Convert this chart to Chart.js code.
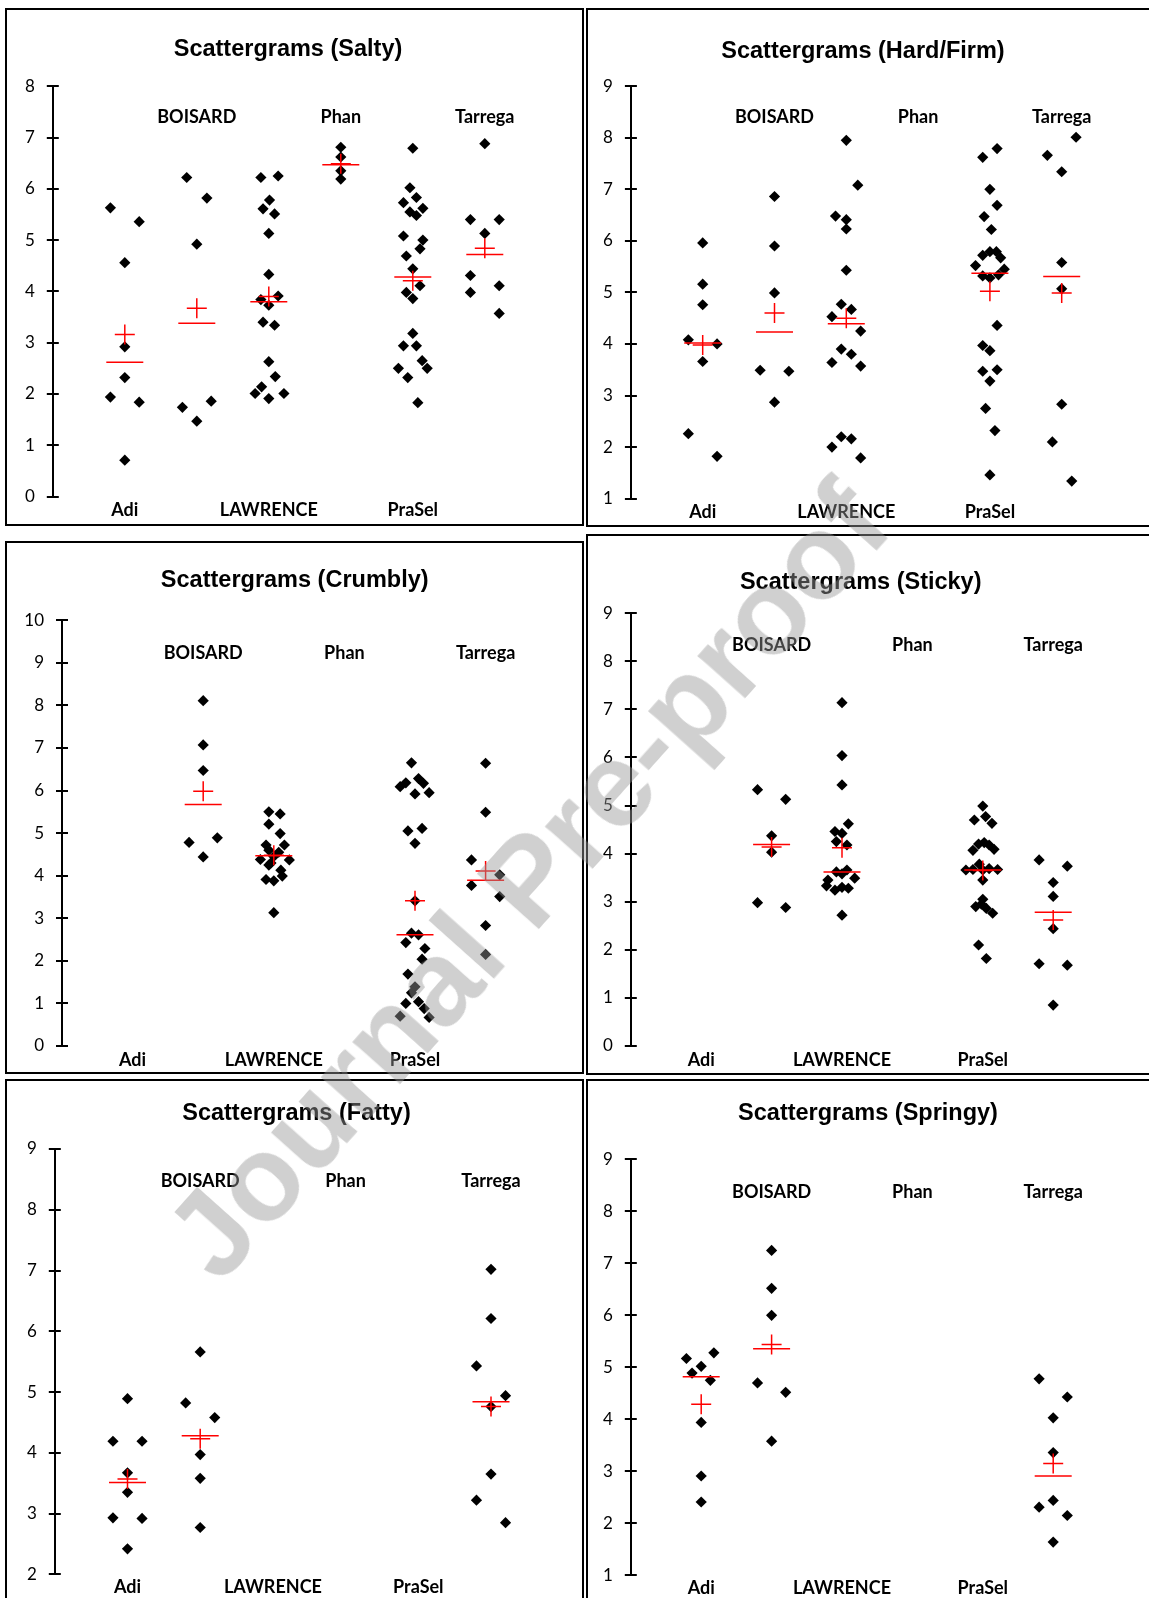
<!DOCTYPE html>
<html>
<head>
<meta charset="utf-8">
<script src="https://cdn.jsdelivr.net/npm/chart.js@4.4.1/dist/chart.umd.min.js"></script>
<style>
  html, body { margin:0; padding:0; background:#fff; }
  body { width:1149px; height:1598px; position:relative; overflow:hidden; }
  .box { position:absolute; border:2px solid #000; box-sizing:border-box; }
  canvas { position:absolute; }
  #wm { position:absolute; left:527px; top:880px; transform:translate(-50%,-50%) rotate(-48.2deg);
        font-family:"Liberation Sans", Arial, sans-serif; font-weight:bold; font-size:121px; line-height:1;
        color:rgba(150,150,150,0.45); white-space:nowrap; pointer-events:none; z-index:10; }
</style>
</head>
<body>
<div id="wm">Journal Pre-proof</div>
<script>
// ---------------- DATA ----------------
const categories = ['Adi', 'BOISARD', 'LAWRENCE', 'Phan', 'PraSel', 'Tarrega'];
const titles = ['Scattergrams (Salty)', 'Scattergrams (Hard/Firm)', 'Scattergrams (Crumbly)',
                'Scattergrams (Sticky)', 'Scattergrams (Fatty)', 'Scattergrams (Springy)'];
const yMin = [0, 1, 0, 0, 2, 1];
const yMax = [8, 9, 10, 9, 9, 9];

// individual scores: [x (category index + jitter), score]
const saltyPoints = [
  [0.8,5.63],[1.2,5.36],[1,4.56],[1,2.92],[1,2.32],[0.8,1.94],[1.2,1.84],[1,0.71],
  [1.86,6.22],[2.14,5.82],[2,4.92],[1.8,1.74],[2.2,1.86],[2,1.47],
  [2.89,6.22],[3.13,6.25],[3.01,5.78],[2.92,5.61],[3.08,5.51],[3,5.13],[3,4.33],[2.89,3.84],[3.13,3.91],
  [3,3.73],[2.92,3.40],[3.08,3.34],[3,2.63],[3.09,2.34],[2.9,2.14],[2.81,2.01],[3.21,2.01],[3,1.91],
  [4,6.81],[4,6.62],[4,6.35],[4,6.19],
  [5,6.79],[4.96,6.02],[4.87,5.73],[5.05,5.83],[5.14,5.62],[4.96,5.55],[5.05,5.48],[4.87,5.08],[5.14,5.00],
  [5.1,4.83],[4.91,4.69],[5,4.44],[5.1,4.11],[4.91,3.98],[5,3.86],[5,3.18],[4.87,2.94],[5.05,2.94],
  [5.13,2.65],[4.8,2.50],[5.2,2.50],[4.93,2.32],[5.07,1.83],
  [6,6.88],[5.8,5.40],[6.2,5.40],[6,5.13],[5.8,4.31],[5.8,3.98],[6.2,4.11],[6.2,3.57]
];
const saltyMeans   = [3.16, 3.67, 3.90, 6.49, 4.21, 4.84];
const saltyMedians = [2.62, 3.38, 3.80, 6.47, 4.28, 4.72];

const hardPoints = [
  [1,5.96],[1,5.16],[1,4.76],[0.8,4.08],[1.2,4.00],[1,3.66],[0.8,2.26],[1.2,1.82],
  [2,6.86],[2,5.90],[2,4.99],[1.8,3.49],[2.2,3.47],[2,2.87],
  [3,7.95],[3.16,7.08],[2.85,6.48],[3,6.41],[3,6.23],[3,5.43],[2.93,4.77],[3.07,4.67],[2.8,4.53],
  [3.2,4.25],[2.93,3.90],[3.07,3.80],[2.8,3.64],[3.2,3.57],[2.93,2.20],[3.07,2.16],[2.8,2.00],[3.2,1.79],
  [5.1,7.79],[4.9,7.62],[5,7.00],[5.1,6.69],[4.92,6.47],[5.02,6.22],
  [4.9,5.72],[5,5.79],[5.09,5.79],[5.15,5.67],[4.8,5.52],[5.2,5.45],[4.9,5.32],[5,5.28],[5.12,5.34],
  [5.1,4.36],[4.9,3.97],[5,3.87],[4.9,3.47],[5.1,3.50],[5,3.28],[4.94,2.75],[5.07,2.32],[5,1.46],
  [6.2,8.01],[5.8,7.66],[6,7.34],[6,5.58],[6,5.07],[6,2.83],[5.87,2.10],[6.14,1.34]
];
const hardMeans   = [3.98, 4.60, 4.50, null, 5.02, 4.99];
const hardMedians = [4.02, 4.23, 4.39, null, 5.37, 5.31];

const crumblyPoints = [
  [2,8.11],[2,7.07],[2,6.47],[1.8,4.78],[2.2,4.89],[2,4.44],
  [2.93,5.50],[3.09,5.45],[2.93,5.21],[3.09,4.99],[2.89,4.72],[3.15,4.72],[2.81,4.38],[3.22,4.37],
  [2.93,4.25],[3.1,4.13],[3.12,3.99],[2.89,3.91],[3,3.88],[3,3.13],[2.93,4.60],[3.07,4.55],[3,4.45],[2.96,4.30],
  [4.95,6.65],[4.79,6.09],[4.87,6.18],[5.05,6.28],[5.12,6.17],[5,5.92],[5.2,5.95],[4.9,5.05],[5.1,5.11],
  [5,4.76],[5,3.41],[4.95,2.65],[5.05,2.61],[4.87,2.43],[5.14,2.29],[5.1,2.04],[4.9,1.69],[5,1.39],
  [4.95,1.25],[4.87,1.00],[5.05,1.04],[5.13,0.88],[4.79,0.70],[5.2,0.67],
  [6,6.64],[6,5.49],[5.8,4.37],[6.2,4.02],[5.8,3.77],[6.2,3.51],[6,2.83],[6,2.15]
];
const crumblyMeans   = [null, 5.98, 4.48, null, 3.41, 4.11];
const crumblyMedians = [null, 5.67, 4.47, null, 2.61, 3.89];

const stickyPoints = [
  [1.8,5.33],[2.2,5.13],[2,4.37],[2,4.03],[1.8,2.98],[2.2,2.88],
  [3,7.14],[3,6.04],[3,5.43],[3.09,4.62],[2.9,4.46],[3,4.42],[2.92,4.25],[3.07,4.18],[2.92,3.62],
  [3.07,3.66],[2.8,3.45],[3.18,3.49],[2.78,3.33],[2.9,3.24],[3,3.30],[3.09,3.28],[3,2.72],[3,3.58],
  [5,4.99],[4.88,4.70],[5.04,4.77],[5.13,4.63],[4.86,4.07],[4.94,4.20],[5.02,4.23],[5.09,4.18],[5.16,4.09],
  [4.76,3.66],[4.86,3.67],[4.95,3.78],[5.09,3.69],[5.21,3.67],[5,3.66],[5,3.45],[5,3.05],[4.9,2.90],
  [4.98,2.95],[5.05,2.86],[5.14,2.76],[4.94,2.10],[5.05,1.82],
  [5.8,3.87],[6.2,3.74],[6,3.40],[6,3.11],[6,2.44],[5.8,1.71],[6.2,1.68],[6,0.85]
];
const stickyMeans   = [null, 4.14, 4.12, null, 3.65, 2.62];
const stickyMedians = [null, 4.19, 3.62, null, 3.66, 2.78];

const fattyPoints = [
  [1,4.89],[0.8,4.19],[1.2,4.19],[1,3.67],[1,3.35],[0.8,2.93],[1.2,2.92],[1,2.42],
  [2,5.66],[1.8,4.82],[2.2,4.58],[2,3.97],[2,3.58],[2,2.77],
  [6,7.02],[6,6.21],[5.8,5.43],[6.2,4.94],[6,4.76],[6,3.65],[5.8,3.22],[6.2,2.85]
];
const fattyMeans   = [3.57, 4.23, null, null, null, 4.76];
const fattyMedians = [3.51, 4.28, null, null, null, 4.84];

const springyPoints = [
  [0.79,5.17],[1.18,5.28],[1,5.02],[0.87,4.89],[1.13,4.75],[1,3.94],[1,2.91],[1,2.41],
  [2,7.25],[2,6.52],[2,6.00],[1.8,4.70],[2.2,4.52],[2,3.58],
  [5.8,4.78],[6.2,4.43],[6,4.03],[6,3.36],[5.8,2.31],[6,2.44],[6.2,2.15],[6,1.64]
];
const springyMeans   = [4.29, 5.44, null, null, null, 3.15];
const springyMedians = [4.82, 5.36, null, null, null, 2.91];

const pointSets  = [saltyPoints, hardPoints, crumblyPoints, stickyPoints, fattyPoints, springyPoints];
const meanSets   = [saltyMeans, hardMeans, crumblyMeans, stickyMeans, fattyMeans, springyMeans];
const medianSets = [saltyMedians, hardMedians, crumblyMedians, stickyMedians, fattyMedians, springyMedians];

// ---------------- LAYOUT ----------------
const panels = [
  {box:[5,8,584,526],     axisX:52.8,  catW:72.0, yPx:[86.2,496.6],   title:[288,50],    topY:117.5, botY:510},
  {box:[586,8,1160,527],  axisX:630.9, catW:71.8, yPx:[86.2,498.6],   title:[863,51.4],  topY:117.6, botY:512},
  {box:[5,541,584,1074],  axisX:62,    catW:70.6, yPx:[620.2,1046],   title:[294.7,581], topY:653,   botY:1060},
  {box:[586,534,1160,1075],axisX:630.8,catW:70.4, yPx:[613.2,1046],   title:[860.7,582.6],topY:645,  botY:1060},
  {box:[5,1079,584,1610], axisX:54.8,  catW:72.7, yPx:[1149,1574.3],  title:[296.5,1114],topY:1181,  botY:1587},
  {box:[586,1079,1160,1610],axisX:630.8,catW:70.4,yPx:[1159.4,1575.3],title:[868,1114],  topY:1192,  botY:1588}
];
const X_MAX = 7;

const decorPlugin = {
  id: 'decor',
  afterDraw(chart, args, opts) {
    const ctx = chart.ctx;
    const ys = chart.scales.y, xs = chart.scales.x;
    const ca = chart.chartArea;
    ctx.save();
    // inner half of the crossing tick marks
    ctx.strokeStyle = '#000';
    ctx.lineWidth = 2;
    ys.ticks.forEach(t => {
      const y = Math.round(ys.getPixelForValue(t.value));
      ctx.beginPath();
      ctx.moveTo(ca.left, y);
      ctx.lineTo(ca.left + 6, y);
      ctx.stroke();
    });
    // title
    ctx.fillStyle = '#000';
    ctx.textAlign = 'center';
    ctx.textBaseline = 'middle';
    ctx.font = 'bold 23.5px "Liberation Sans", Arial, sans-serif';
    ctx.fillText(opts.title, opts.titleX, opts.titleY);
    // category labels
    ctx.font = 'bold 18px Lato, "Open Sans", sans-serif';
    categories.forEach((c, i) => {
      const x = xs.getPixelForValue(i + 1);
      const y = (i % 2 === 0) ? opts.botY : opts.topY;
      ctx.fillText(c, x, y);
    });
    ctx.restore();
  }
};

function build() {
  panels.forEach((p, k) => {
    const [l, t, r, b] = p.box;
    const box = document.createElement('div');
    box.className = 'box';
    box.style.left = l + 'px'; box.style.top = t + 'px';
    box.style.width = (r - l) + 'px'; box.style.height = (b - t) + 'px';
    document.body.appendChild(box);

    const cv = document.createElement('canvas');
    const W = r - l, H = b - t;
    cv.width = W; cv.height = H;
    cv.style.left = l + 'px'; cv.style.top = t + 'px';
    cv.style.width = W + 'px'; cv.style.height = H + 'px';
    document.body.appendChild(cv);

    const yAxisW = p.axisX - l;
    const padTop = p.yPx[0] - t;
    const padBottom = H - (p.yPx[1] - t);
    const padRight = W - (p.axisX + X_MAX * p.catW - l);

    const pts = pointSets[k].map(([x, y]) => ({x, y}));
    const means = [], meds = [];
    meanSets[k].forEach((v, i) => { if (v !== null) means.push({x: i + 1, y: v}); });
    medianSets[k].forEach((v, i) => { if (v !== null) meds.push({x: i + 1, y: v}); });

    new Chart(cv, {
      type: 'scatter',
      data: {
        datasets: [
          {label:'mean', data: means, pointStyle:'cross', pointRadius:10, pointBorderColor:'#ff0000',
           pointBackgroundColor:'#ff0000', pointBorderWidth:1.5, order:0},
          {label:'median', data: meds, pointStyle:'line', pointRadius:18.5, pointBorderColor:'#ff0000',
           pointBackgroundColor:'#ff0000', pointBorderWidth:1.5, order:0},
          {label:'scores', data: pts, pointStyle:'rectRot', pointRadius:5.6, pointBorderColor:'#000',
           pointBackgroundColor:'#000', pointBorderWidth:0, order:1}
        ]
      },
      options: {
        responsive:false, animation:false, devicePixelRatio:1, events:[],
        layout:{autoPadding:false, padding:{left:0, top:padTop, right:padRight, bottom:padBottom}},
        plugins:{
          legend:{display:false}, tooltip:{enabled:false}, title:{display:false},
          decor:{title: titles[k], titleX: p.title[0] - l, titleY: p.title[1] - t,
                 topY: p.topY - t, botY: p.botY - t}
        },
        scales:{
          x:{type:'linear', min:0, max:X_MAX, display:false},
          y:{type:'linear', min:yMin[k], max:yMax[k],
             ticks:{stepSize:1, font:{family:'Lato', size:17}, color:'#000', padding:12},
             grid:{drawOnChartArea:false, drawTicks:true, tickLength:6, color:'#000', lineWidth:2},
             border:{display:true, color:'#000', width:2},
             afterFit(s){ s.width = yAxisW; }}
        }
      },
      plugins:[decorPlugin]
    });
  });
}

const fontsReady = document.fonts ? Promise.all([
  document.fonts.load('bold 23px "Liberation Sans"'),
  document.fonts.load('bold 18px Lato'),
  document.fonts.load('17px Lato'),
  document.fonts.load('bold 121px "Liberation Sans"')
]).catch(() => null) : Promise.resolve();
let done = false;
function go(){ if (!done) { done = true; build(); } }
fontsReady.then(go);
setTimeout(go, 1500);
</script>
</body>
</html>
